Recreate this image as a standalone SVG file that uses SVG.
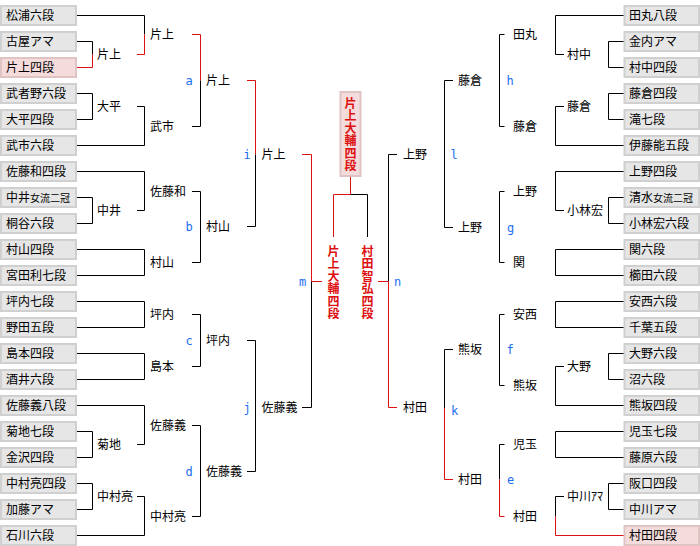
<svg xmlns="http://www.w3.org/2000/svg" width="700" height="546" viewBox="0 0 700 546">
<style>
.box{fill:#e6e6e6;stroke:#d0d0d0;stroke-width:2}
.win{fill:#f4dcdc;stroke:#e0c4c4;stroke-width:2}
.t{font-family:"Noto Sans CJK JP","Noto Sans CJK SC",sans-serif;font-size:12px;fill:#000}
.s{font-size:10px}
.rt{font-family:"Noto Sans CJK JP","Noto Sans CJK SC",sans-serif;font-size:12px;font-weight:bold;fill:#dd1111;writing-mode:vertical-rl;letter-spacing:0.5px}
.lb{font-family:"DejaVu Sans Mono",monospace;font-size:12px;fill:#1a6ef0;text-anchor:middle}
.k{stroke:#000;fill:none;stroke-width:1}
.r{stroke:#dd1111;fill:none;stroke-width:1}
</style>
<rect width="700" height="546" fill="#fff"/>
<g id="connectors">
<path class="k" d="M77 41.5H92.5V54.5"/>
<path class="r" d="M77 67.5H92.5V54.5"/>
<path class="k" d="M77 93.5H92.5V119.5H77"/>
<path class="k" d="M77 197.5H92.5V223.5H77"/>
<path class="k" d="M77 431.5H92.5V457.5H77"/>
<path class="k" d="M77 483.5H92.5V509.5H77"/>
<path class="k" d="M77 15.5H144.5V34.5"/>
<path class="r" d="M137 54.5H144.5V34.5"/>
<path class="k" d="M137 106.5H144.5V145.5H77"/>
<path class="k" d="M77 171.5H144.5V210.5H137"/>
<path class="k" d="M77 249.5H144.5V275.5H77"/>
<path class="k" d="M77 301.5H144.5V327.5H77"/>
<path class="k" d="M77 353.5H144.5V379.5H77"/>
<path class="k" d="M77 405.5H144.5V444.5H137"/>
<path class="k" d="M137 496.5H144.5V535.5H77"/>
<path class="r" d="M192 34.5H200.5V80.5"/>
<path class="k" d="M192 126.5H200.5V80.5"/>
<path class="k" d="M192 191.5H200.5V262.5H192"/>
<path class="k" d="M192 314.5H200.5V366.5H192"/>
<path class="k" d="M192 425.5H200.5V516.5H192"/>
<path class="r" d="M247 80.5H255.5V154.5"/>
<path class="k" d="M247 226.5H255.5V154.5"/>
<path class="k" d="M247 340.5H255.5V471.5H247"/>
<path class="r" d="M302 154.5H311.5V281.5H322"/>
<path class="k" d="M302 407.5H311.5V281.5"/>
<path class="r" d="M350.5 177V194.5H333.5V237"/>
<path class="k" d="M350.5 194.5H367.5V237"/>
<path class="k" d="M397 154.5H388.5V281.5"/>
<path class="r" d="M378 281.5H388.5V407.5H397"/>
<path class="k" d="M453 80.5H444.5V227.5H453"/>
<path class="k" d="M453 349.5H444.5V408"/>
<path class="r" d="M453 479.5H444.5V408"/>
<path class="k" d="M504.5 34.5H499.5V126.5H504.5"/>
<path class="k" d="M504.5 191.5H499.5V262.5H504.5"/>
<path class="k" d="M504.5 314.5H499.5V385.5H504.5"/>
<path class="k" d="M504.5 444.5H499.5V479.5"/>
<path class="r" d="M504.5 516.5H499.5V479.5"/>
<path class="k" d="M624 15.5H555.5V54.5H564"/>
<path class="k" d="M564 106.5H555.5V145.5H624"/>
<path class="k" d="M624 171.5H555.5V210.5H564"/>
<path class="k" d="M624 249.5H555.5V275.5H624"/>
<path class="k" d="M624 301.5H555.5V327.5H624"/>
<path class="k" d="M564 366.5H555.5V405.5H624"/>
<path class="k" d="M624 431.5H555.5V457.5H624"/>
<path class="k" d="M564 496.5H555.5V516.5"/>
<path class="r" d="M624 535.5H555.5V516.5"/>
<path class="k" d="M624 41.5H608.5V67.5H624"/>
<path class="k" d="M624 93.5H608.5V119.5H624"/>
<path class="k" d="M624 197.5H608.5V223.5H624"/>
<path class="k" d="M624 353.5H608.5V379.5H624"/>
<path class="k" d="M624 483.5H608.5V509.5H624"/>
</g>
<g id="left-players">
<g id="L1"><rect class="box" x="1" y="6" width="75" height="19"/><text class="t" x="6" y="20">松浦六段</text></g>
<g id="L2"><rect class="box" x="1" y="32" width="75" height="19"/><text class="t" x="6" y="46">古屋アマ</text></g>
<g id="L3"><rect class="win" x="1" y="58" width="75" height="19"/><text class="t" x="6" y="72">片上四段</text></g>
<g id="L4"><rect class="box" x="1" y="84" width="75" height="19"/><text class="t" x="6" y="98">武者野六段</text></g>
<g id="L5"><rect class="box" x="1" y="110" width="75" height="19"/><text class="t" x="6" y="124">大平四段</text></g>
<g id="L6"><rect class="box" x="1" y="136" width="75" height="19"/><text class="t" x="6" y="150">武市六段</text></g>
<g id="L7"><rect class="box" x="1" y="162" width="75" height="19"/><text class="t" x="6" y="176">佐藤和四段</text></g>
<g id="L8"><rect class="box" x="1" y="188" width="75" height="19"/><text class="t" x="6" y="202">中井<tspan class="s">女流二冠</tspan></text></g>
<g id="L9"><rect class="box" x="1" y="214" width="75" height="19"/><text class="t" x="6" y="228">桐谷六段</text></g>
<g id="L10"><rect class="box" x="1" y="240" width="75" height="19"/><text class="t" x="6" y="254">村山四段</text></g>
<g id="L11"><rect class="box" x="1" y="266" width="75" height="19"/><text class="t" x="6" y="280">宮田利七段</text></g>
<g id="L12"><rect class="box" x="1" y="292" width="75" height="19"/><text class="t" x="6" y="306">坪内七段</text></g>
<g id="L13"><rect class="box" x="1" y="318" width="75" height="19"/><text class="t" x="6" y="332">野田五段</text></g>
<g id="L14"><rect class="box" x="1" y="344" width="75" height="19"/><text class="t" x="6" y="358">島本四段</text></g>
<g id="L15"><rect class="box" x="1" y="370" width="75" height="19"/><text class="t" x="6" y="384">酒井六段</text></g>
<g id="L16"><rect class="box" x="1" y="396" width="75" height="19"/><text class="t" x="6" y="410">佐藤義八段</text></g>
<g id="L17"><rect class="box" x="1" y="422" width="75" height="19"/><text class="t" x="6" y="436">菊地七段</text></g>
<g id="L18"><rect class="box" x="1" y="448" width="75" height="19"/><text class="t" x="6" y="462">金沢四段</text></g>
<g id="L19"><rect class="box" x="1" y="474" width="75" height="19"/><text class="t" x="6" y="488">中村亮四段</text></g>
<g id="L20"><rect class="box" x="1" y="500" width="75" height="19"/><text class="t" x="6" y="514">加藤アマ</text></g>
<g id="L21"><rect class="box" x="1" y="526" width="75" height="19"/><text class="t" x="6" y="540">石川六段</text></g>
</g>
<g id="right-players">
<g id="R1"><rect class="box" x="624.5" y="6" width="74.5" height="19"/><text class="t" x="629" y="20">田丸八段</text></g>
<g id="R2"><rect class="box" x="624.5" y="32" width="74.5" height="19"/><text class="t" x="629" y="46">金内アマ</text></g>
<g id="R3"><rect class="box" x="624.5" y="58" width="74.5" height="19"/><text class="t" x="629" y="72">村中四段</text></g>
<g id="R4"><rect class="box" x="624.5" y="84" width="74.5" height="19"/><text class="t" x="629" y="98">藤倉四段</text></g>
<g id="R5"><rect class="box" x="624.5" y="110" width="74.5" height="19"/><text class="t" x="629" y="124">滝七段</text></g>
<g id="R6"><rect class="box" x="624.5" y="136" width="74.5" height="19"/><text class="t" x="629" y="150">伊藤能五段</text></g>
<g id="R7"><rect class="box" x="624.5" y="162" width="74.5" height="19"/><text class="t" x="629" y="176">上野四段</text></g>
<g id="R8"><rect class="box" x="624.5" y="188" width="74.5" height="19"/><text class="t" x="629" y="202">清水<tspan class="s">女流二冠</tspan></text></g>
<g id="R9"><rect class="box" x="624.5" y="214" width="74.5" height="19"/><text class="t" x="629" y="228">小林宏六段</text></g>
<g id="R10"><rect class="box" x="624.5" y="240" width="74.5" height="19"/><text class="t" x="629" y="254">関六段</text></g>
<g id="R11"><rect class="box" x="624.5" y="266" width="74.5" height="19"/><text class="t" x="629" y="280">櫛田六段</text></g>
<g id="R12"><rect class="box" x="624.5" y="292" width="74.5" height="19"/><text class="t" x="629" y="306">安西六段</text></g>
<g id="R13"><rect class="box" x="624.5" y="318" width="74.5" height="19"/><text class="t" x="629" y="332">千葉五段</text></g>
<g id="R14"><rect class="box" x="624.5" y="344" width="74.5" height="19"/><text class="t" x="629" y="358">大野六段</text></g>
<g id="R15"><rect class="box" x="624.5" y="370" width="74.5" height="19"/><text class="t" x="629" y="384">沼六段</text></g>
<g id="R16"><rect class="box" x="624.5" y="396" width="74.5" height="19"/><text class="t" x="629" y="410">熊坂四段</text></g>
<g id="R17"><rect class="box" x="624.5" y="422" width="74.5" height="19"/><text class="t" x="629" y="436">児玉七段</text></g>
<g id="R18"><rect class="box" x="624.5" y="448" width="74.5" height="19"/><text class="t" x="629" y="462">藤原六段</text></g>
<g id="R19"><rect class="box" x="624.5" y="474" width="74.5" height="19"/><text class="t" x="629" y="488">阪口四段</text></g>
<g id="R20"><rect class="box" x="624.5" y="500" width="74.5" height="19"/><text class="t" x="629" y="514">中川アマ</text></g>
<g id="R21"><rect class="win" x="624.5" y="526" width="74.5" height="19"/><text class="t" x="629" y="540">村田四段</text></g>
</g>
<g id="left-winners">
<text class="t" x="97" y="59">片上</text>
<text class="t" x="97" y="111">大平</text>
<text class="t" x="97" y="215">中井</text>
<text class="t" x="97" y="449">菊地</text>
<text class="t" x="97" y="501">中村亮</text>
<text class="t" x="150" y="39">片上</text>
<text class="t" x="150" y="131">武市</text>
<text class="t" x="150" y="196">佐藤和</text>
<text class="t" x="150" y="267">村山</text>
<text class="t" x="150" y="319">坪内</text>
<text class="t" x="150" y="371">島本</text>
<text class="t" x="150" y="430">佐藤義</text>
<text class="t" x="150" y="521">中村亮</text>
<text class="t" x="206" y="85">片上</text>
<text class="t" x="206" y="231">村山</text>
<text class="t" x="206" y="345">坪内</text>
<text class="t" x="206" y="476">佐藤義</text>
<text class="t" x="261.5" y="159">片上</text>
<text class="t" x="261.5" y="412">佐藤義</text>
</g>
<g id="right-winners">
<text class="t" x="567" y="59">村中</text>
<text class="t" x="567" y="111">藤倉</text>
<text class="t" x="567" y="215">小林宏</text>
<text class="t" x="567" y="371">大野</text>
<text class="t" x="567" y="501">中川ｱﾏ</text>
<text class="t" x="513" y="39">田丸</text>
<text class="t" x="513" y="131">藤倉</text>
<text class="t" x="513" y="196">上野</text>
<text class="t" x="513" y="267">関</text>
<text class="t" x="513" y="319">安西</text>
<text class="t" x="513" y="390">熊坂</text>
<text class="t" x="513" y="449">児玉</text>
<text class="t" x="513" y="521">村田</text>
<text class="t" x="458" y="85">藤倉</text>
<text class="t" x="458" y="232">上野</text>
<text class="t" x="458" y="354">熊坂</text>
<text class="t" x="458" y="484">村田</text>
<text class="t" x="403" y="159">上野</text>
<text class="t" x="403" y="412">村田</text>
</g>
<g id="match-labels">
<text class="lb" x="189" y="84.5">a</text>
<text class="lb" x="189" y="230.5">b</text>
<text class="lb" x="189" y="344.5">c</text>
<text class="lb" x="189" y="475.5">d</text>
<text class="lb" x="247" y="158.5">i</text>
<text class="lb" x="247" y="411.5">j</text>
<text class="lb" x="302.5" y="285.5">m</text>
<text class="lb" x="397.5" y="285.5">n</text>
<text class="lb" x="454" y="158.5">l</text>
<text class="lb" x="454.5" y="415">k</text>
<text class="lb" x="510" y="84.5">h</text>
<text class="lb" x="510.5" y="231.5">g</text>
<text class="lb" x="510" y="353.5">f</text>
<text class="lb" x="510.5" y="483.5">e</text>
</g>
<g id="champion">
<rect class="win" x="340.5" y="92" width="20" height="84"/>
<text class="rt" x="350.5" y="97">片上大輔四段</text>
</g>
<g id="finalist-katagami">
<text class="rt" x="333.5" y="245">片上大輔四段</text>
</g>
<g id="finalist-murata">
<text class="rt" x="367.5" y="245">村田智弘四段</text>
</g>
</svg>
